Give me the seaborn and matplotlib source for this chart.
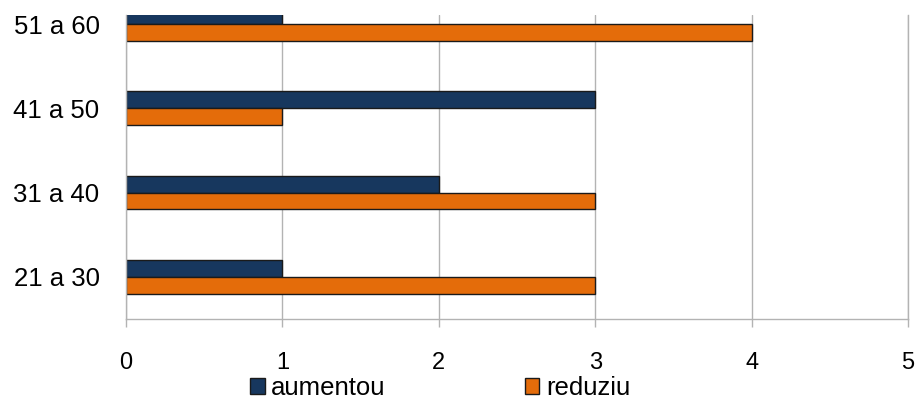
import seaborn as sns
import matplotlib.pyplot as plt
import pandas as pd

plt.switch_backend('agg')

faixas = ['21 a 30', '31 a 40', '41 a 50', '51 a 60']
aumentou = [1, 2, 3, 1]
reduziu = [3, 3, 1, 4]
series = ['aumentou', 'reduziu']
cores = ['#17375e', '#e46c0a']

df = pd.DataFrame({
    'faixa': faixas * 2,
    'valor': aumentou + reduziu,
    'serie': ['aumentou'] * len(faixas) + ['reduziu'] * len(faixas),
})

sns.set_style('white')
plt.rcParams['font.family'] = ['Liberation Sans', 'DejaVu Sans']
plt.rcParams['text.color'] = 'black'

fig = plt.figure(figsize=(9.18, 4.01), dpi=100)
ax = fig.add_axes([126 / 918, 82 / 401, 782 / 918, 304 / 401])

sns.barplot(data=df, x='valor', y='faixa', hue='serie', orient='h',
            order=faixas[::-1], hue_order=series, palette=cores,
            width=0.4, saturation=1, edgecolor='#1a1a1a', linewidth=1,
            ax=ax)

ax.set_xlim(0, 5)
ax.set_ylim(3.5, -0.107)
ax.set_xticks(range(6))
ax.set_xlabel('')
ax.set_ylabel('')
ax.grid(axis='x', color='#b3b3b3', linewidth=1)
ax.set_axisbelow(True)
for s in ['left', 'bottom', 'right']:
    ax.spines[s].set_color('#b3b3b3')
    ax.spines[s].set_linewidth(1)
ax.spines['top'].set_visible(False)

ax.set_yticks([0.5, 1.5, 2.5, 3.5], minor=True)
ax.tick_params(axis='y', which='major', length=0, pad=19, labelsize=18.5,
               labelcolor='black')
ax.tick_params(axis='y', which='minor', length=6.5, color='#b3b3b3', width=1)
ax.tick_params(axis='x', length=6, color='#b3b3b3', width=1, pad=18,
               labelsize=17, labelcolor='black', bottom=True)

# legenda no rodape (no original aparece cortada, aqui fica inteira)
handles, labels = ax.get_legend_handles_labels()
ax.get_legend().remove()
fig.legend(handles, labels, loc='lower left', bbox_to_anchor=(250 / 918, 1 / 401),
           ncol=2, frameon=False, fontsize=18.5, borderpad=0, borderaxespad=0,
           handlelength=0.58, handleheight=0.58, handletextpad=0.25,
           columnspacing=5.4)

plt.savefig('out.png', dpi=100)
